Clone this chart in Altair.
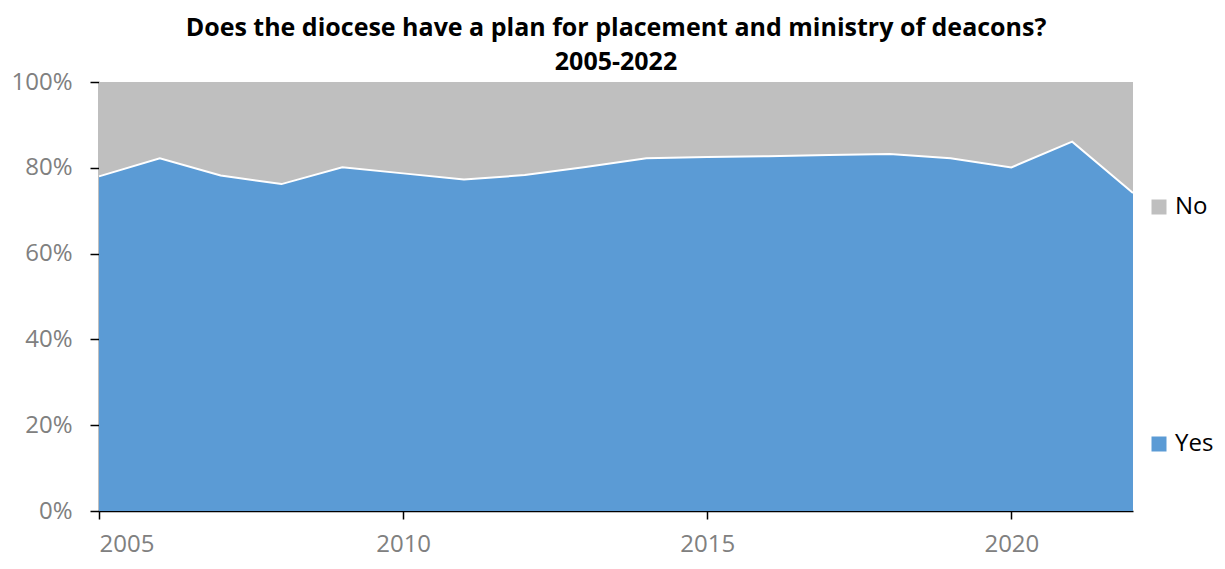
import altair as alt
import pandas as pd

years = list(range(2005, 2023))
yes_pct = [78.0, 82.2, 78.2, 76.2, 80.1, 78.7, 77.3, 78.3, 80.2, 82.2, 82.5, 82.7, 83.0, 83.2, 82.2, 80.1, 86.1, 74.1]
no_pct = [round(100 - v, 1) for v in yes_pct]
series = ["No", "Yes"]
colors = ["#BFBFBF", "#5B9BD5"]

rows = []
for y, a, b in zip(years, yes_pct, no_pct):
    rows.append({"year": y, "series": "Yes", "value": a / 100, "ord": 0})
    rows.append({"year": y, "series": "No", "value": b / 100, "ord": 1})
df = pd.DataFrame(rows)
line_df = pd.DataFrame({"year": years, "value": [v / 100 for v in yes_pct]})

font = "Open Sans"

x_enc = alt.X(
    "year:Q",
    scale=alt.Scale(domain=[2005, 2022], nice=False, zero=False),
    axis=alt.Axis(
        values=[2005, 2010, 2015, 2020], format="d", title=None, grid=False,
        domainColor="#000000", domainWidth=1.5, tickColor="#000000", tickWidth=1.5,
        tickSize=8, labelFontSize=24, labelFont=font, labelColor="#808080",
        labelPadding=13,
    ),
)

area = alt.Chart(df).mark_area(opacity=1).encode(
    x=x_enc,
    y=alt.Y(
        "value:Q", stack="zero",
        scale=alt.Scale(domain=[0, 1], nice=False),
        axis=alt.Axis(
            values=[0, 0.2, 0.4, 0.6, 0.8, 1.0], format=".0%", title=None, grid=False,
            domainColor="#000000", domainWidth=1.5, tickColor="#000000", tickWidth=1.5,
            tickSize=9, labelFontSize=24, labelFont=font, labelColor="#808080",
            labelPadding=18,
        ),
    ),
    color=alt.Color(
        "series:N",
        scale=alt.Scale(domain=series, range=colors),
        legend=alt.Legend(
            title=None, orient="none", legendX=1048, legendY=113,
            symbolType="square", symbolSize=225, symbolStrokeWidth=0,
            labelFontSize=24, labelFont=font, labelColor="#000000",
            rowPadding=213, padding=0, labelOffset=4,
        ),
    ),
    order=alt.Order("ord:Q", sort="ascending"),
)

line = alt.Chart(line_df).mark_line(color="white", strokeWidth=2).encode(
    x=alt.X("year:Q"),
    y=alt.Y("value:Q"),
)

chart = alt.layer(area, line).properties(
    width=1034,
    height=429,
    title=alt.Title(
        ["Does the diocese have a plan for placement and ministry of deacons?", "2005-2022"],
        font=font, fontSize=25, fontWeight="bold", color="#000000",
        anchor="middle", lineHeight=34, offset=-5,
    ),
    autosize=alt.AutoSizeParams(type="none"),
    padding={"left": 91, "top": 74, "right": 84, "bottom": 50},
).configure_view(stroke=None)

chart.save("out.html", embed_options={"renderer": "svg", "actions": False})
